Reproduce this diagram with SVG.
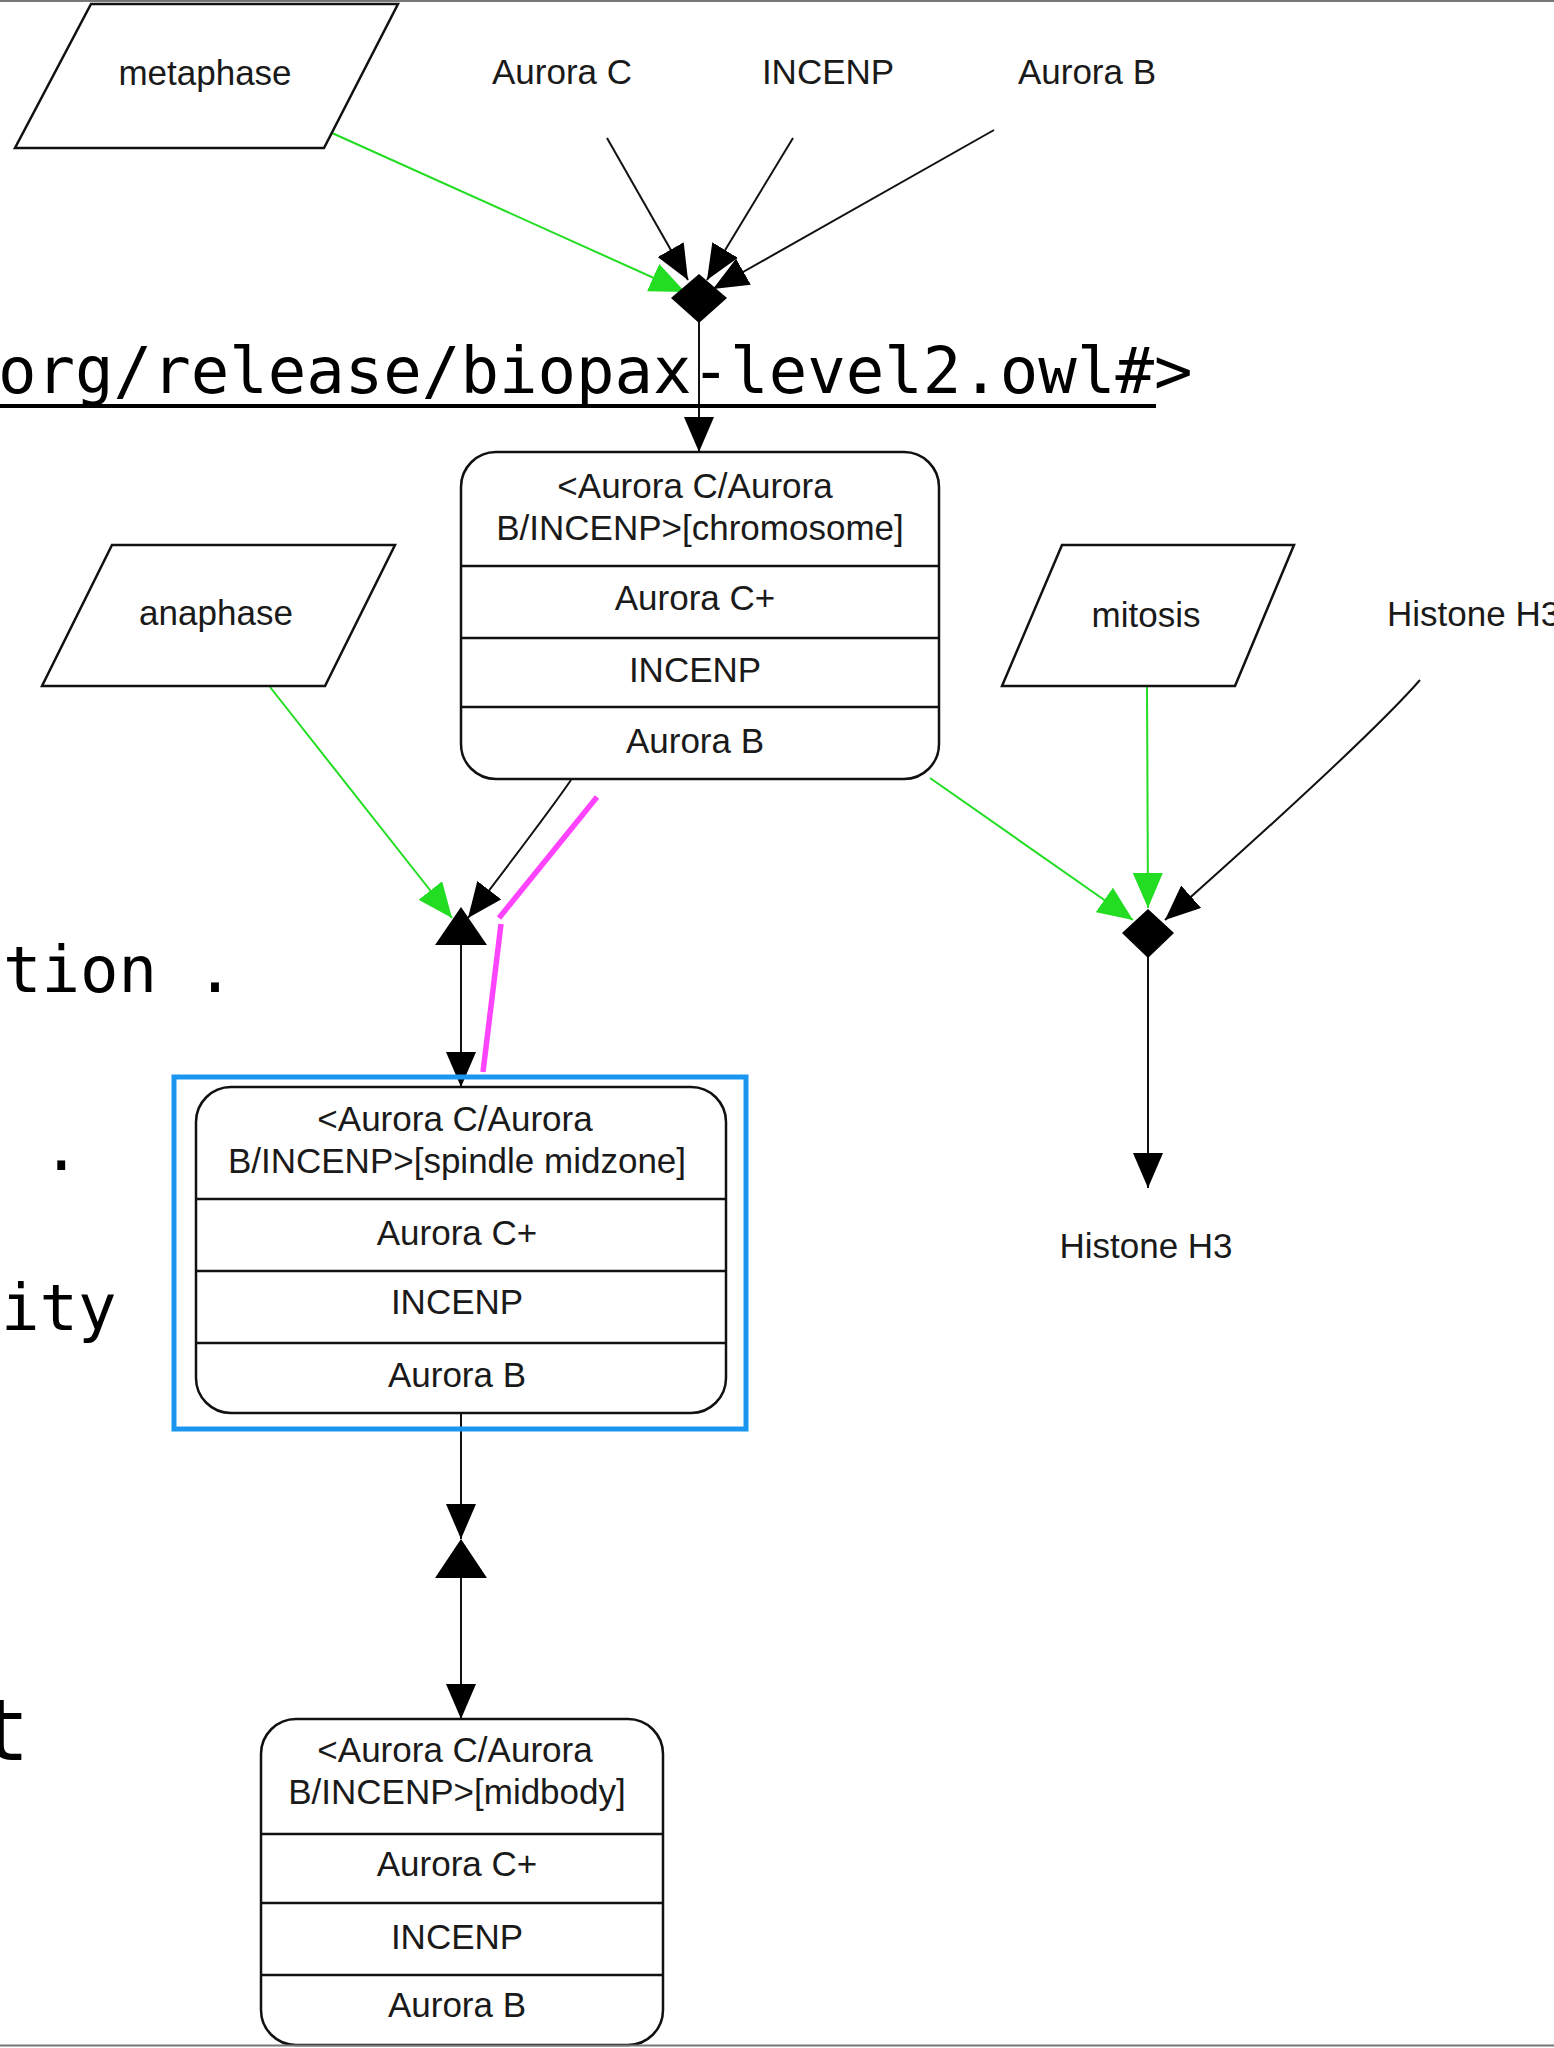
<svg xmlns="http://www.w3.org/2000/svg" width="1554" height="2048" viewBox="0 0 1554 2048">
<style>
.lbl{font-family:"Liberation Sans",Arial,sans-serif;font-size:35px;fill:#1a1a1a;text-anchor:middle}
.shape{fill:#fff;stroke:#111;stroke-width:2.5}
.div{stroke:#111;stroke-width:2.5}
.blk{fill:none;stroke:#111;stroke-width:2}
.grn{fill:none;stroke:#22dd22;stroke-width:2}
.mono{font-family:"DejaVu Sans Mono","Liberation Mono",monospace;font-size:64px;fill:#000}
.proc{fill:#000}
</style>
<defs>
<marker id="ah" markerUnits="userSpaceOnUse" viewBox="0 0 35 30" markerWidth="35" markerHeight="30" refX="35" refY="15" orient="auto"><path d="M0,0 L35,15 L0,30 Z" fill="#000"/></marker>
<marker id="ahg" markerUnits="userSpaceOnUse" viewBox="0 0 35 30" markerWidth="35" markerHeight="30" refX="35" refY="15" orient="auto"><path d="M0,0 L35,15 L0,30 Z" fill="#22dd22"/></marker>
</defs>
<rect width="1554" height="2048" fill="#fff"/>
<line x1="0" y1="1" x2="1554" y2="1" stroke="#777" stroke-width="2"/>

<g id="connectors">
<path class="grn" d="M332,133 L685,292" marker-end="url(#ahg)"/>
<path class="blk" d="M607,138 L688,280" marker-end="url(#ah)"/>
<path class="blk" d="M793,138 L707,280" marker-end="url(#ah)"/>
<path class="blk" d="M994,130 L713,289" marker-end="url(#ah)"/>
<path class="blk" d="M699,322 L699,452" marker-end="url(#ah)"/>
<path class="blk" d="M571,780 C560,796 520,850 468,918" marker-end="url(#ah)"/>
<path class="grn" d="M270,687 L452,918" marker-end="url(#ahg)"/>
<path class="blk" d="M461,945 L461,1087" marker-end="url(#ah)"/>
<path class="grn" d="M930,778 L1133,920" marker-end="url(#ahg)"/>
<path class="grn" d="M1147,686 L1148,908" marker-end="url(#ahg)"/>
<path class="blk" d="M1420,680 C1385,720 1300,800 1165,920" marker-end="url(#ah)"/>
<path class="blk" d="M1148,957 L1148,1188" marker-end="url(#ah)"/>
<path class="blk" d="M461,1413 L461,1539" marker-end="url(#ah)"/>
<path class="blk" d="M461,1578 L461,1719" marker-end="url(#ah)"/>
</g>

<g id="metaphase"><polygon class="shape" points="91,4 398,4 324,148 15,148"/><text class="lbl" x="205" y="85">metaphase</text></g>
<g id="auroraC"><text class="lbl" x="562" y="84">Aurora C</text></g>
<g id="incenp"><text class="lbl" x="828" y="84">INCENP</text></g>
<g id="auroraB"><text class="lbl" x="1087" y="84">Aurora B</text></g>
<g id="proc1"><polygon class="proc" points="699,274 727,298 699,323 671,298"/></g>

<g id="chromosome">
<rect class="shape" x="461" y="452" width="478" height="327" rx="35" ry="35"/>
<line class="div" x1="461" y1="566" x2="939" y2="566"/>
<line class="div" x1="461" y1="638" x2="939" y2="638"/>
<line class="div" x1="461" y1="707" x2="939" y2="707"/>
<text class="lbl" x="695" y="498">&lt;Aurora C/Aurora</text>
<text class="lbl" x="700" y="540">B/INCENP&gt;[chromosome]</text>
<text class="lbl" x="695" y="610">Aurora C+</text>
<text class="lbl" x="695" y="682">INCENP</text>
<text class="lbl" x="695" y="753">Aurora B</text>
</g>

<g id="anaphase"><polygon class="shape" points="112,545 395,545 325,686 42,686"/><text class="lbl" x="216" y="625">anaphase</text></g>
<g id="mitosis"><polygon class="shape" points="1062,545 1294,545 1235,686 1002,686"/><text class="lbl" x="1146" y="627">mitosis</text></g>
<g id="histoneH3in"><text class="lbl" x="1387" y="626" style="text-anchor:start">Histone H3</text></g>
<g id="proc2"><polygon class="proc" points="461,907 487,945 435,945"/></g>
<g id="proc3"><polygon class="proc" points="1148,909 1174,933 1148,958 1122,933"/></g>
<g id="histoneH3out"><text class="lbl" x="1146" y="1258">Histone H3</text></g>

<g id="spindle">
<rect class="shape" x="196" y="1087" width="530" height="326" rx="35" ry="35"/>
<line class="div" x1="196" y1="1199" x2="726" y2="1199"/>
<line class="div" x1="196" y1="1271" x2="726" y2="1271"/>
<line class="div" x1="196" y1="1343" x2="726" y2="1343"/>
<text class="lbl" x="455" y="1131">&lt;Aurora C/Aurora</text>
<text class="lbl" x="457" y="1173">B/INCENP&gt;[spindle midzone]</text>
<text class="lbl" x="457" y="1245">Aurora C+</text>
<text class="lbl" x="457" y="1314">INCENP</text>
<text class="lbl" x="457" y="1387">Aurora B</text>
</g>

<g id="proc4"><polygon class="proc" points="461,1539 487,1578 435,1578"/></g>

<g id="midbody">
<rect class="shape" x="261" y="1719" width="402" height="326" rx="35" ry="35"/>
<line class="div" x1="261" y1="1834" x2="663" y2="1834"/>
<line class="div" x1="261" y1="1903" x2="663" y2="1903"/>
<line class="div" x1="261" y1="1975" x2="663" y2="1975"/>
<text class="lbl" x="455" y="1762">&lt;Aurora C/Aurora</text>
<text class="lbl" x="457" y="1804">B/INCENP&gt;[midbody]</text>
<text class="lbl" x="457" y="1876">Aurora C+</text>
<text class="lbl" x="457" y="1949">INCENP</text>
<text class="lbl" x="457" y="2017">Aurora B</text>
</g>

<g id="overlay">
<text class="mono" x="-2" y="393">org/release/biopax-level2.owl#&gt;</text>
<line x1="0" y1="406" x2="1156" y2="406" stroke="#000" stroke-width="4"/>
<text class="mono" x="3" y="992">tion .</text>
<text class="mono" x="42" y="1170">.</text>
<text class="mono" x="1" y="1330">ity</text>
<text class="mono" x="-22" y="1760" style="font-size:86px">t</text>
<rect x="174" y="1077" width="572" height="352" fill="none" stroke="#1a96f0" stroke-width="5"/>
<path d="M597,797 L499,918 M501,924 L483,1072" fill="none" stroke="#ff44ff" stroke-width="5.5"/>
</g>
<line x1="0" y1="2045.5" x2="1554" y2="2045.5" stroke="#777" stroke-width="2"/>
</svg>
